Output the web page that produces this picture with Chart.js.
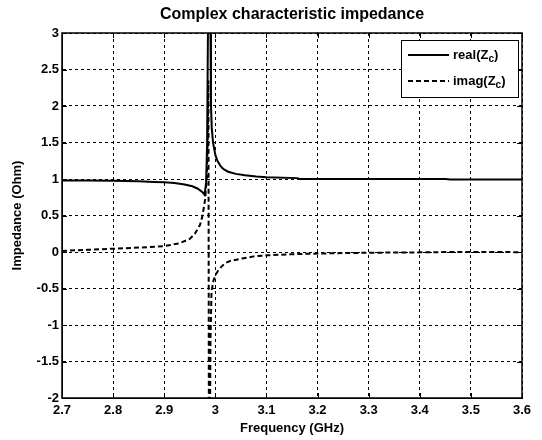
<!DOCTYPE html>
<html>
<head>
<meta charset="utf-8">
<script src="https://cdn.jsdelivr.net/npm/chart.js"></script>
<style>
  body { margin: 0; background: #fff; }
  #wrap { width: 542px; height: 440px; }
</style>
</head>
<body>
<div id="wrap"><canvas id="grafico" width="542" height="440"></canvas></div>
<script>
// eixos
const xTicks = [2.7, 2.8, 2.9, 3.0, 3.1, 3.2, 3.3, 3.4, 3.5, 3.6];
const yTicks = [-2, -1.5, -1, -0.5, 0, 0.5, 1, 1.5, 2, 2.5, 3];

// parte real de Zc
const freqReal = [2.70, 2.75, 2.80, 2.85, 2.88, 2.90, 2.92, 2.94, 2.955, 2.965, 2.975, 2.979,
  2.982, 2.984, 2.986, 2.988, 2.990, 2.9915, 2.993, 2.9955, 3.000, 3.004, 3.010, 3.015,
  3.025, 3.040, 3.058, 3.080, 3.100, 3.160, 3.165, 3.300, 3.450, 3.460, 3.600];
const realVals = [0.98, 0.98, 0.975, 0.968, 0.96, 0.955, 0.945, 0.925, 0.9, 0.87, 0.82, 0.785,
  0.95, 1.5, 3.5, 6, 3.5, 2.0, 1.7, 1.5, 1.33, 1.25, 1.18, 1.14,
  1.1, 1.07, 1.05, 1.035, 1.025, 1.012, 1.0, 1.0, 1.0, 0.993, 0.993];

// parte imaginária de Zc
const freqImag = [2.70, 2.75, 2.80, 2.85, 2.90, 2.93, 2.95, 2.96, 2.97, 2.975, 2.98, 2.983,
  2.985, 2.9865, 2.9875, 2.989, 2.9905, 2.9925, 2.996, 3.000, 3.005, 3.012, 3.020, 3.030,
  3.052, 3.075, 3.100, 3.150, 3.190, 3.250, 3.300, 3.400, 3.460, 3.600];
const imagVals = [0.015, 0.03, 0.045, 0.06, 0.08, 0.12, 0.18, 0.25, 0.37, 0.5, 0.72, 1.0,
  1.5, 2.35, -3, -3, -1.2, -0.55, -0.4, -0.32, -0.26, -0.2, -0.15, -0.12,
  -0.09, -0.06, -0.046, -0.03, -0.023, -0.015, -0.01, -0.005, 0.0, -0.002];

const fonte = "'Liberation Sans', Arial, sans-serif";

// título, caixa, marcas e legenda no estilo MATLAB
const estiloMatlab = {
  id: 'estiloMatlab',
  afterDatasetsDraw(chart) {
    const ctx = chart.ctx;
    const a = chart.chartArea;
    const sx = chart.scales.x, sy = chart.scales.y;
    ctx.save();
    ctx.strokeStyle = '#000';
    ctx.lineWidth = 1;
    ctx.setLineDash([]);
    // marcas internas
    ctx.beginPath();
    xTicks.forEach(v => {
      const px = Math.round(sx.getPixelForValue(v)) + 0.5;
      ctx.moveTo(px, a.bottom); ctx.lineTo(px, a.bottom - 5);
      ctx.moveTo(px, a.top); ctx.lineTo(px, a.top + 5);
    });
    yTicks.forEach(v => {
      const py = Math.round(sy.getPixelForValue(v)) + 0.5;
      ctx.moveTo(a.left, py); ctx.lineTo(a.left + 5, py);
      ctx.moveTo(a.right, py); ctx.lineTo(a.right - 5, py);
    });
    ctx.stroke();
    // caixa
    ctx.lineWidth = 1.5;
    ctx.strokeRect(a.left, a.top, a.right - a.left, a.bottom - a.top);

    // título
    ctx.fillStyle = '#000';
    ctx.font = 'bold 16px ' + fonte;
    ctx.textAlign = 'center';
    ctx.textBaseline = 'middle';
    ctx.fillText('Complex characteristic impedance', (a.left + a.right) / 2, 15);

    // legenda
    const lx = 401, ly = 40, lw = 117, lh = 57;
    ctx.fillStyle = '#fff';
    ctx.fillRect(lx, ly, lw, lh);
    ctx.lineWidth = 1;
    ctx.strokeRect(lx + 0.5, ly + 0.5, lw, lh);
    const entradas = [
      { nome: 'real', dash: [], y: ly + 15 },
      { nome: 'imag', dash: [5, 3], y: ly + 41 }
    ];
    entradas.forEach(e => {
      ctx.beginPath();
      ctx.setLineDash(e.dash);
      ctx.lineWidth = 2;
      ctx.moveTo(lx + 7, e.y);
      ctx.lineTo(lx + 48, e.y);
      ctx.stroke();
      ctx.setLineDash([]);
      ctx.fillStyle = '#000';
      ctx.textAlign = 'left';
      ctx.textBaseline = 'middle';
      ctx.font = 'bold 13px ' + fonte;
      let x = lx + 52;
      const t1 = e.nome + '(Z';
      ctx.fillText(t1, x, e.y);
      x += ctx.measureText(t1).width;
      ctx.font = 'bold 10px ' + fonte;
      ctx.fillText('c', x, e.y + 4);
      x += ctx.measureText('c').width;
      ctx.font = 'bold 13px ' + fonte;
      ctx.fillText(')', x, e.y);
    });
    ctx.restore();
  }
};

new Chart(document.getElementById('grafico'), {
  type: 'line',
  data: {
    datasets: [{
      label: 'real(Zc)',
      data: freqReal.map((f, i) => ({ x: f, y: realVals[i] })),
      borderColor: '#000',
      borderWidth: 2,
      pointRadius: 0,
      tension: 0,
      clip: 0
    }, {
      label: 'imag(Zc)',
      data: freqImag.map((f, i) => ({ x: f, y: imagVals[i] })),
      borderColor: '#000',
      borderWidth: 2,
      borderDash: [5, 3],
      pointRadius: 0,
      tension: 0,
      clip: 0
    }]
  },
  options: {
    responsive: false,
    animation: false,
    layout: { padding: { top: 33, right: 20, left: 0, bottom: 0 } },
    plugins: {
      legend: { display: false },
      title: { display: false },
      tooltip: { enabled: false }
    },
    scales: {
      x: {
        type: 'linear',
        min: 2.7,
        max: 3.6,
        afterBuildTicks: s => { s.ticks = xTicks.map(v => ({ value: v })); },
        afterFit: s => { s.height = 42; },
        grid: { color: '#000', lineWidth: 1, drawTicks: false },
        border: { color: '#000', width: 1, dash: [3, 3] },
        ticks: {
          color: '#000',
          padding: 5,
          maxRotation: 0,
          font: { family: fonte, size: 13, weight: 'bold' },
          callback: v => String(+v.toFixed(1))
        },
        title: {
          display: true,
          text: 'Frequency (GHz)',
          color: '#000',
          padding: 4,
          font: { family: fonte, size: 13, weight: 'bold' }
        }
      },
      y: {
        type: 'linear',
        min: -2,
        max: 3,
        afterBuildTicks: s => { s.ticks = yTicks.map(v => ({ value: v })); },
        afterFit: s => { s.width = 62; },
        grid: { color: '#000', lineWidth: 1, drawTicks: false },
        border: { color: '#000', width: 1, dash: [3, 3] },
        ticks: {
          color: '#000',
          padding: 3,
          font: { family: fonte, size: 13, weight: 'bold' },
          callback: v => String(+v.toFixed(1))
        },
        title: {
          display: true,
          text: 'Impedance (Ohm)',
          color: '#000',
          padding: 10,
          font: { family: fonte, size: 13, weight: 'bold' }
        }
      }
    }
  },
  plugins: [estiloMatlab]
});
</script>
</body>
</html>
